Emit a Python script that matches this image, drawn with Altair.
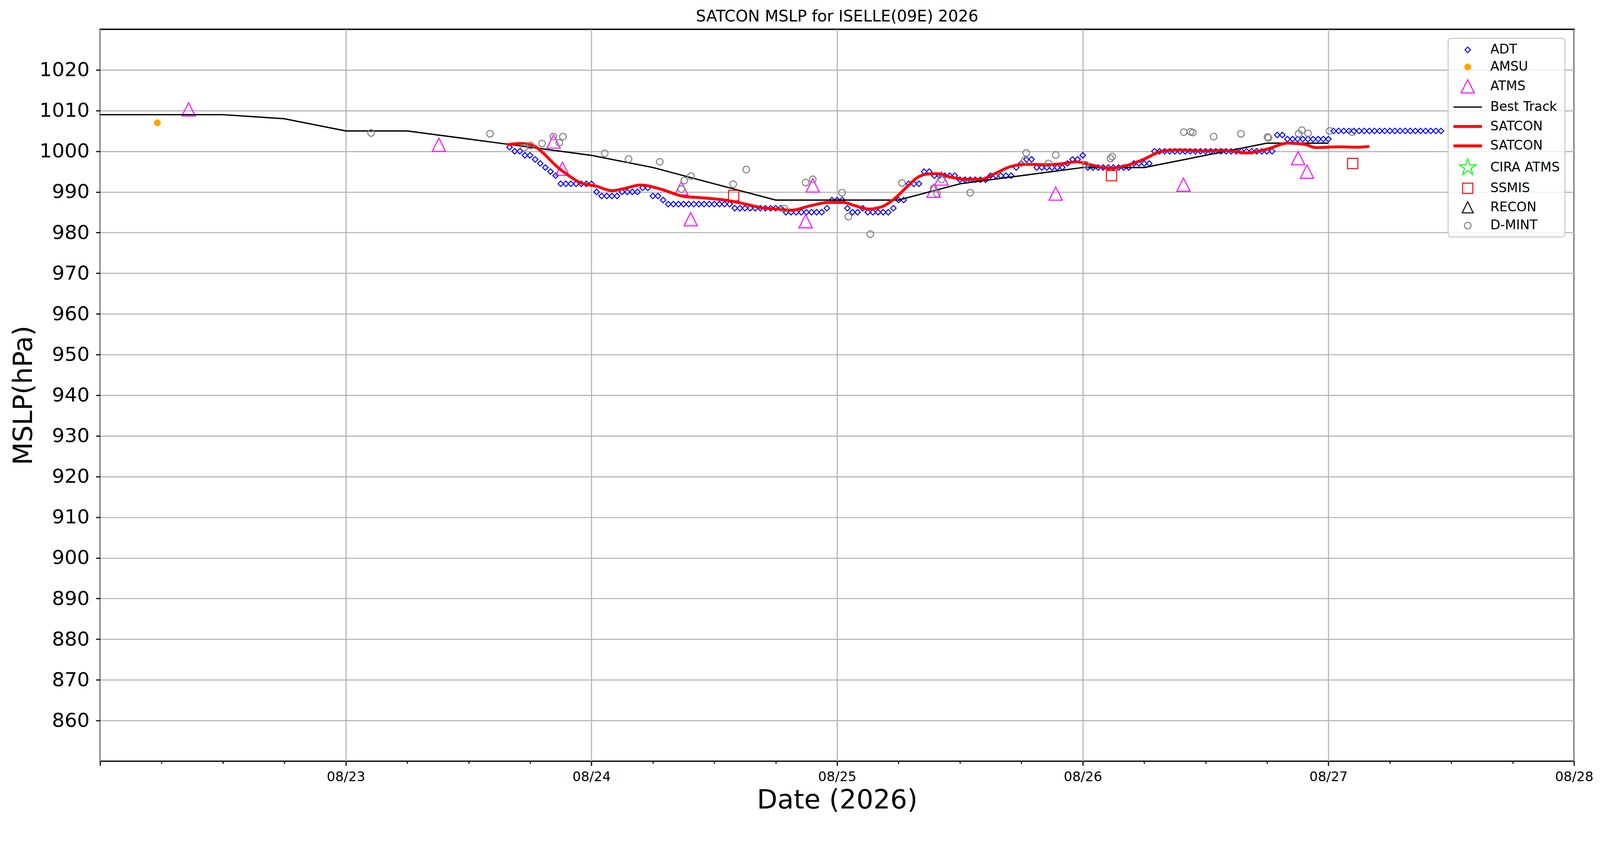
import altair as alt
import pandas as pd

# ---------------- data ----------------
BASE = pd.Timestamp("2026-08-22T00:00:00Z")   # times below are days after 08/22 00Z

SERIES = ["ADT", "AMSU", "ATMS", "Best Track", "SATCON", "SATCON ",
          "CIRA ATMS", "SSMIS", "RECON", "D-MINT"]

# ADT: every 30 minutes starting 08/23 16Z
ADT_START = "2026-08-23T16:00:00Z"
ADT_MSLP = [
    1001, 1000, 1000, 999, 999, 998, 997, 996, 995, 994,
    992, 992, 992, 992, 992, 992, 992, 990, 989, 989,
    989, 989, 990, 990, 990, 990, 991, 991, 989, 989,
    988, 987, 987, 987, 987, 987, 987, 987, 987, 987,
    987, 987, 987, 987, 986, 986, 986, 986, 986, 986,
    986, 986, 986, 986, 985, 985, 985, 985, 985, 985,
    985, 985, 986, 988, 988, 988, 986, 985, 985, 986,
    985, 985, 985, 985, 985, 986, 988, 988, 992, 992,
    992, 995, 995, 994, 994, 994, 994, 994, 993, 993,
    993, 993, 993, 993, 994, 994, 994, 994, 994, 996,
    997, 998, 998, 996, 996, 996, 996, 996, 996, 997,
    998, 998, 999, 996, 996, 996, 996, 996, 996, 996,
    996, 996, 997, 997, 997, 997, 1000, 1000, 1000, 1000,
    1000, 1000, 1000, 1000, 1000, 1000, 1000, 1000, 1000, 1000,
    1000, 1000, 1000, 1000, 1000, 1000, 1000, 1000, 1000, 1000,
    1004, 1004, 1003, 1003, 1003, 1003, 1003, 1003, 1003, 1003,
    1003, 1005, 1005, 1005, 1005, 1005, 1005, 1005, 1005, 1005,
    1005, 1005, 1005, 1005, 1005, 1005, 1005, 1005, 1005, 1005,
    1005, 1005, 1005,
]

AMSU_DAY = [0.233]
AMSU_MSLP = [1007.0]

ATMS_DAY = [0.360, 1.379, 1.846, 1.882, 2.366, 2.404, 2.872, 2.901,
            3.393, 3.425, 3.890, 4.410, 4.877, 4.913]
ATMS_MSLP = [1010.3, 1001.6, 1002.4, 995.7, 990.9, 983.3, 982.8, 991.6,
             990.3, 993.3, 989.6, 991.8, 998.3, 995.0]

SSMIS_DAY = [2.579, 4.117, 5.099]
SSMIS_MSLP = [989.1, 994.0, 997.0]

DMINT_DAY = [1.103, 1.587, 1.726, 1.752, 1.799, 1.845, 1.869, 1.884,
             2.054, 2.151, 2.278, 2.366, 2.378, 2.405, 2.577, 2.630,
             2.785, 2.872, 2.901, 3.020, 3.046, 3.135, 3.264, 3.393,
             3.407, 3.425, 3.542, 3.764, 3.770, 3.860, 3.890, 4.012,
             4.113, 4.120, 4.411, 4.439, 4.448, 4.533, 4.644, 4.752,
             4.756, 4.879, 4.892, 4.917, 5.005, 5.097]
DMINT_MSLP = [1004.5, 1004.3, 1000.9, 1001.4, 1001.9, 1003.6, 1002.1, 1003.6,
              999.5, 998.1, 997.4, 990.7, 992.8, 993.9, 991.9, 995.5,
              985.9, 992.3, 993.1, 989.8, 983.9, 979.6, 992.2, 990.9,
              989.6, 993.1, 989.8, 997.8, 999.6, 997.0, 999.1, 996.7,
              998.2, 998.7, 1004.7, 1004.8, 1004.6, 1003.6, 1004.3, 1003.5,
              1003.3, 1004.3, 1005.2, 1004.4, 1005.0, 1004.7]

# Best track, 6-hourly from 08/22 00Z
BT_START = "2026-08-22T00:00:00Z"
BT_MSLP = [1009, 1009, 1009, 1008, 1005, 1005, 1003, 1001, 999, 996, 992,
           988, 988, 988, 992, 994, 996, 996, 999, 1002, 1002]

SATCON_DAY = [1.656, 1.712, 1.764, 1.799, 1.862, 1.910, 1.957, 2.020, 2.084,
              2.131, 2.202, 2.281, 2.376, 2.439, 2.542, 2.613, 2.694, 2.773,
              2.813, 2.892, 2.963, 3.026, 3.073, 3.129, 3.184, 3.231, 3.287,
              3.326, 3.366, 3.405, 3.452, 3.524, 3.587, 3.642, 3.705, 3.768,
              3.856, 3.911, 3.974, 4.030, 4.109, 4.172, 4.251, 4.322, 4.385,
              4.488, 4.575, 4.670, 4.749, 4.836, 4.904, 4.948, 5.043, 5.116,
              5.167]
SATCON_MSLP = [1001.6, 1001.9, 1001.4, 999.8, 996.1, 993.9, 992.2, 991.4, 990.3,
               990.8, 991.7, 990.7, 988.9, 988.6, 988.0, 987.2, 986.1, 985.7,
               985.5, 986.6, 987.4, 987.4, 986.6, 985.8, 986.4, 988.2, 991.4,
               993.5, 994.4, 994.5, 993.8, 993.1, 993.1, 994.5, 996.2, 996.8,
               996.7, 996.9, 997.4, 996.7, 995.8, 996.4, 998.1, 1000.0, 1000.3,
               1000.1, 1000.2, 999.6, 1000.5, 1002.0, 1001.7, 1000.9, 1001.1, 1001.0,
               1001.2]

Y_TICKS = [860, 870, 880, 890, 900, 910, 920, 930, 940, 950, 960, 970, 980,
           990, 1000, 1010, 1020]

# ---------------- styles ----------------
STROKES = ["#0000ff", "#ffa500", "#ff00ff", "#000000", "#ff0000", "#ff0000",
           "#00ff00", "#ff0000", "#000000", "#808080"]
FILLS = ["transparent", "#ffa500", "transparent", "transparent", "transparent",
         "transparent", "transparent", "transparent", "transparent", "transparent"]
TRI = "M0,-1L1,1L-1,1Z"
LINE = "M-2,0L2,0"
STAR = ("M0,-1L0.2245,-0.309L0.9511,-0.309L0.3633,0.118L0.5878,0.809L0,0.382"
        "L-0.5878,0.809L-0.3633,0.118L-0.9511,-0.309L-0.2245,-0.309Z")
SHAPES = ["diamond", "circle", TRI, LINE, LINE, LINE, STAR, "square", TRI, "circle"]
SIZES = [210, 289, 1225, 1406, 1406, 1406, 2116, 729, 841, 306]
WIDTHS = [2.6, 1, 2.6, 3.5, 7.5, 7.5, 2.6, 2.6, 2.6, 2.7]


def iso_days(days):
    return [(BASE + pd.Timedelta(days=d)).strftime("%Y-%m-%dT%H:%M:%SZ") for d in days]


def iso_range(start, n, freq):
    return [t.strftime("%Y-%m-%dT%H:%M:%SZ") for t in pd.date_range(start, periods=n, freq=freq)]


pts_a = pd.concat([
    pd.DataFrame({"series": "ADT", "time": iso_range(ADT_START, len(ADT_MSLP), "30min"), "mslp": ADT_MSLP}),
    pd.DataFrame({"series": "AMSU", "time": iso_days(AMSU_DAY), "mslp": AMSU_MSLP}),
    pd.DataFrame({"series": "ATMS", "time": iso_days(ATMS_DAY), "mslp": ATMS_MSLP}),
], ignore_index=True)
pts_b = pd.concat([
    pd.DataFrame({"series": "SSMIS", "time": iso_days(SSMIS_DAY), "mslp": SSMIS_MSLP}),
    pd.DataFrame({"series": "D-MINT", "time": iso_days(DMINT_DAY), "mslp": DMINT_MSLP}),
], ignore_index=True)
bt = pd.DataFrame({"series": "Best Track", "time": iso_range(BT_START, len(BT_MSLP), "6h"), "mslp": BT_MSLP})
sat = pd.DataFrame({"series": "SATCON", "time": iso_days(SATCON_DAY), "mslp": SATCON_MSLP})

# ---------------- encodings ----------------
X_TICKS = [alt.DateTime(year=2026, month=8, date=22 + h // 24, hours=h % 24, utc=True)
           for h in range(0, 145, 6)]
is_day = "utchours(datum.value) == 0"

X = alt.X(
    "time:T",
    scale=alt.Scale(type="utc", nice=False,
                    domain=[alt.DateTime(year=2026, month=8, date=22, utc=True),
                            alt.DateTime(year=2026, month=8, date=28, utc=True)]),
    axis=alt.Axis(
        values=X_TICKS,
        labelExpr="utchours(datum.value) == 0 && utcdate(datum.value) > 22 ? utcFormat(datum.value, '%m/%d') : ''",
        tickSize={"condition": {"test": is_day, "value": 11.7}, "value": 6},
        gridOpacity={"condition": {"test": is_day, "value": 1}, "value": 0},
        labelFontSize=35, labelPadding=12, labelFlush=False, labelOverlap=False,
        titlePadding=10, grid=True,
    ),
    title="Date (2026)",
)
Y = alt.Y(
    "mslp:Q",
    scale=alt.Scale(domain=[850, 1030], nice=False, zero=False),
    axis=alt.Axis(values=Y_TICKS, format="d", tickSize=11, labelFontSize=52, labelPadding=17,
                  titlePadding=4, grid=True),
    title="MSLP(hPa)",
)
LEG = alt.Legend(title=None)
STROKE = alt.Stroke("series:N", scale=alt.Scale(domain=SERIES, range=STROKES), legend=LEG)
FILL = alt.Fill("series:N", scale=alt.Scale(domain=SERIES, range=FILLS), legend=LEG)
SHAPE = alt.Shape("series:N", scale=alt.Scale(domain=SERIES, range=SHAPES), legend=LEG)
SIZE = alt.Size("series:N", scale=alt.Scale(type="ordinal", domain=SERIES, range=SIZES), legend=LEG)
SW = alt.StrokeWidth("series:N", scale=alt.Scale(type="ordinal", domain=SERIES, range=WIDTHS), legend=LEG)

layer_a = alt.Chart(pts_a).mark_point(filled=True, opacity=1).encode(
    x=X, y=Y, stroke=STROKE, fill=FILL, shape=SHAPE, size=SIZE, strokeWidth=SW)
layer_bt = alt.Chart(bt).mark_line().encode(x=X, y=Y, stroke=STROKE, strokeWidth=SW)
layer_sat = alt.Chart(sat).mark_line(interpolate="monotone").encode(x=X, y=Y, stroke=STROKE, strokeWidth=SW)
layer_b = alt.Chart(pts_b).mark_point(filled=True, opacity=1).encode(
    x=X, y=Y, stroke=STROKE, fill=FILL, shape=SHAPE, size=SIZE, strokeWidth=SW)

chart = alt.layer(layer_a, layer_bt, layer_sat, layer_b).properties(
    width=3874, height=1924,
    title="SATCON MSLP for ISELLE(09E) 2026",
    autosize=alt.AutoSizeParams(type="none"),
    padding={"left": 255, "top": 40.5, "right": 60, "bottom": 150},
    background="white",
).configure_axis(
    domain=False, gridColor="#b0b0b0", gridWidth=2.7, tickColor="black", tickWidth=3,
    labelColor="black", labelFont="DejaVu Sans", titleFont="DejaVu Sans",
    titleFontWeight="normal", titleColor="black", titleFontSize=70,
).configure_view(
    stroke="black", strokeWidth=3.5,
).configure_legend(
    orient="top-right", offset=24, padding=13, rowPadding=11,
    labelFont="DejaVu Sans", labelFontSize=34, labelColor="black", labelLimit=0,
    labelOffset=35, symbolOffset=14,
    fillColor="rgba(255,255,255,0.8)", strokeColor="#cccccc", strokeWidth=3, cornerRadius=8,
).configure_title(
    font="DejaVu Sans", fontSize=41.5, fontWeight="normal", anchor="middle",
    frame="group", baseline="alphabetic", offset=12, color="black",
)

chart.save("out.html", embed_options={"renderer": "svg", "actions": False})
